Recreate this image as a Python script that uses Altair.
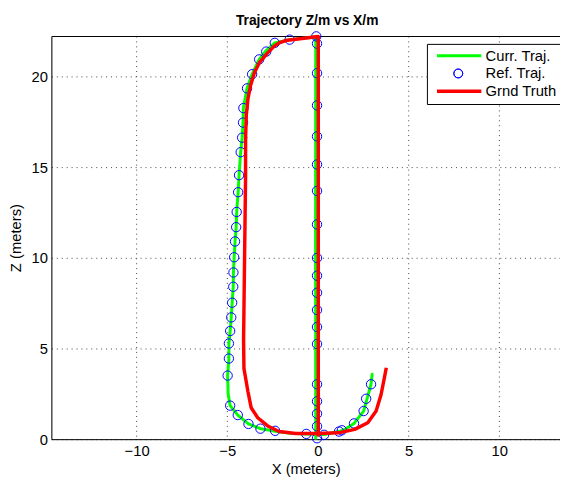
import altair as alt
import pandas as pd

# ---- data ----
series_names = ["Curr. Traj.", "Ref. Traj.", "Grnd Truth"]

curr_x = [-0.12, -0.13, -0.12, -1.56, -2.38, -2.85, -3.24, -3.63, -3.91, -4.11, -4.13, -4.18, -4.26,
          -4.35, -4.40, -4.48, -4.51, -4.57, -4.62, -4.66, -4.67, -4.73, -4.78, -4.84, -4.91, -4.91,
          -4.98, -4.95, -4.84, -4.42, -3.83, -3.17, -2.36, -1.50, -0.64, 0.34, 1.16, 1.45, 1.99,
          2.52, 2.70, 2.93, 2.99]
curr_z = [0.05, 10.0, 22.2, 22.05, 21.87, 21.45, 20.96, 20.14, 19.36, 18.27, 17.47, 16.64, 15.84,
          14.57, 13.63, 12.54, 11.70, 10.91, 10.04, 9.20, 8.41, 7.53, 6.72, 5.97, 5.28, 4.45,
          3.51, 2.50, 1.85, 1.33, 0.84, 0.58, 0.44, 0.33, 0.28, 0.26, 0.42, 0.52, 0.87,
          1.55, 2.20, 3.03, 3.59]

ref_x = [-0.05, -0.05, -0.05, -0.05, -0.05, -0.05, -0.05, -0.05, -0.05, -0.05, -0.05, -0.05,
         -0.05, -0.05, -0.05, -0.05, -0.05, -0.05, -0.09,
         -1.56, -2.38, -2.85, -3.24, -3.63, -3.91, -4.11, -4.13, -4.18, -4.26,
         -4.35, -4.40, -4.48, -4.51, -4.57, -4.62, -4.66, -4.67, -4.73, -4.78, -4.84, -4.91,
         -4.91, -4.98, -4.84,
         -4.42, -3.83, -3.17, -2.36, -0.64, 0.34, 1.16, 1.32, 1.99, 2.52, 2.66, 2.93]
ref_z = [0.05, 0.71, 1.40, 2.09, 3.03, 5.25, 6.19, 7.13, 8.08, 9.02, 10.0, 11.85,
         13.70, 15.16, 16.71, 18.42, 20.2, 21.83, 22.23,
         22.05, 21.87, 21.39, 20.96, 20.14, 19.36, 18.27, 17.47, 16.64, 15.84,
         14.57, 13.63, 12.54, 11.70, 10.91, 10.04, 9.20, 8.41, 7.53, 6.72, 5.97, 5.28,
         4.45, 3.51, 1.85,
         1.33, 0.84, 0.58, 0.46, 0.29, 0.24, 0.42, 0.49, 0.87, 1.55, 2.23, 3.03]

gt_x = [0.02, 0.02, -1.78, -2.14, -2.41, -2.77, -3.23, -3.50, -3.72, -3.86, -3.95, -3.99, -3.99,
        -4.10, -4.08, -3.86, -3.68, -3.32, -2.77, -2.14, -1.23, 0.03, 1.12, 2.03, 2.75, 3.21,
        3.48, 3.66, 3.77]
gt_z = [0.15, 22.22, 22.0, 21.87, 21.69, 21.32, 20.78, 20.23, 19.51, 18.78, 17.88, 16.6, 14.5,
        5.5, 3.9, 2.63, 1.73, 1.18, 0.73, 0.42, 0.31, 0.31, 0.35, 0.54, 0.91, 1.55,
        2.45, 3.36, 3.94]

x_ticks = [-10, -5, 0, 5, 10]
z_ticks = [0, 5, 10, 15, 20]

# ---- tables ----
def table(xs, zs, name):
    return pd.DataFrame({"x": xs, "z": zs, "series": name, "order": range(len(xs))})

curr_df = table(curr_x, curr_z, series_names[0])
ref_df = table(ref_x, ref_z, series_names[1])
gt_df = table(gt_x, gt_z, series_names[2])

FONT = "Liberation Sans"
xscale = alt.Scale(domain=[-14.7, 13.35], nice=False, zero=False)
yscale = alt.Scale(domain=[0, 22.25], nice=False, zero=False)

# legend glyphs: long horizontal stroke, and a hollow ring (zero net area, so no fill shows)
line_path = "M-0.4,0L9.6,0"
circle_path = ("M5.4,0A1,1,0,1,1,3.4,0A1,1,0,1,1,5.4,0"
               "A1,1,0,1,0,3.4,0A1,1,0,1,0,5.4,0")

color = alt.Color(
    "series:N",
    scale=alt.Scale(domain=series_names, range=["#00ff00", "#0000ff", "#ff0000"]),
    legend=alt.Legend(
        title=None, orient="none", legendX=381, legendY=8,
        fillColor="white", strokeColor="black", padding=4.5,
        labelFont=FONT, labelFontSize=15, labelColor="black",
        labelOffset=40, rowPadding=2, symbolSize=81,
        cornerRadius=0,
    ),
)
shape = alt.Shape("series:N", scale=alt.Scale(domain=series_names,
                                               range=[line_path, circle_path, line_path]))
sw = alt.StrokeWidth("series:N", scale=alt.Scale(type="ordinal", domain=series_names,
                                                  range=[3, 1, 3.5]))

x_bottom = alt.X(
    "x:Q", scale=xscale,
    axis=alt.Axis(values=x_ticks, title="X (meters)", labelExpr="replace(datum.label, '-', '\u2212')",
                  labelFont=FONT, labelFontSize=15, labelColor="black", labelPadding=5,
                  ticks=False, grid=True, gridDash=[1, 4], gridColor="#444",
                  domainColor="black", domainWidth=1,
                  titleFont=FONT, titleFontSize=15, titleFontWeight="normal", titleColor="black",
                  titleBaseline="alphabetic", titleY=35),
)
x_top = alt.X(
    "x:Q", scale=xscale,
    axis=alt.Axis(orient="top", labels=False, ticks=False, grid=False,
                  title="Trajectory Z/m vs X/m",
                  titleFont=FONT, titleFontSize=14, titleFontWeight="bold", titleColor="black",
                  titleBaseline="alphabetic", titleAlign="center", titleX=259, titleY=-12,
                  domainColor="black", domainWidth=1),
)
y_enc = alt.Y(
    "z:Q", scale=yscale,
    axis=alt.Axis(values=z_ticks, title="Z (meters)",
                  labelFont=FONT, labelFontSize=15, labelColor="black", labelPadding=4,
                  ticks=False, grid=True, gridDash=[1, 4], gridColor="#444",
                  domainColor="black", domainWidth=1,
                  titleFont=FONT, titleFontSize=15, titleFontWeight="normal", titleColor="black",
                  titleBaseline="alphabetic", titleX=-31),
)

curr = alt.Chart(curr_df).mark_line(strokeCap="round", strokeJoin="round").encode(
    x=x_bottom, y=y_enc, color=color, shape=shape, strokeWidth=sw, order="order:Q")
ref = alt.Chart(ref_df).mark_point(filled=False, size=90, opacity=1).encode(
    x=x_top, y=y_enc, color=color, shape=alt.value("circle"), strokeWidth=sw)
gt = alt.Chart(gt_df).mark_line(strokeCap="butt", strokeJoin="round").encode(
    x=alt.X("x:Q", scale=xscale, axis=None), y=y_enc, color=color, shape=shape,
    strokeWidth=sw, order="order:Q")

chart = alt.layer(curr, ref, gt).resolve_axis(x="independent").properties(
    width=516, height=409,
    autosize=alt.AutoSizeParams(type="none"),
    padding={"left": 44, "top": 25, "right": 0, "bottom": 37},
).configure_view(stroke=None).configure(background="white")

chart.save("out.html", embed_options={"renderer": "svg", "actions": False})
